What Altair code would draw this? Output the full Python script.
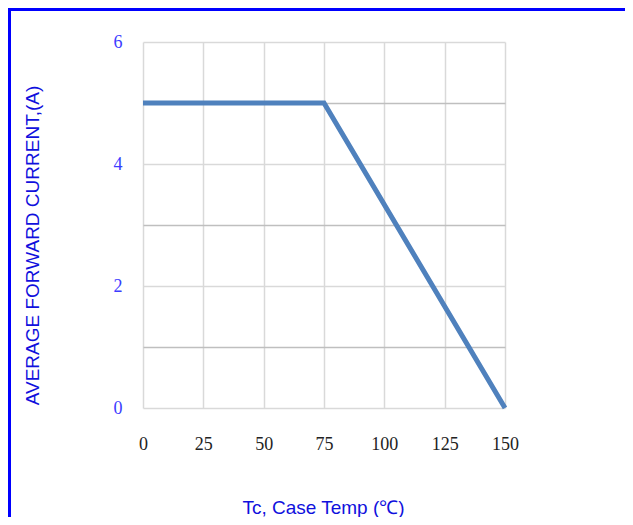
import altair as alt
import pandas as pd

temp = [0, 75, 150]
current = [5, 5, 0]
x_ticks = [0, 25, 50, 75, 100, 125, 150]
y_ticks = [0, 1, 2, 3, 4, 5, 6]

df = pd.DataFrame({"temp": temp, "current": current})

W, H = 362, 366
PL, PT = 135, 34
PR, PB = 617 - PL - W, 509 - PT - H

x_axis = alt.Axis(
    values=x_ticks, grid=True, gridColor="#d9d9d9", gridWidth=1.5,
    domain=False, ticks=False, labelFont="Liberation Serif", labelFontSize=18,
    labelColor="#222222", labelPadding=27, title="Tc, Case Temp (℃)",
    titleFont="Liberation Sans", titleFontSize=19, titleFontWeight="normal",
    titleColor="#1010dd", titleX=180, titleY=99, titleBaseline="middle",
    titleAlign="center", labelFlush=False,
)
y_axis = alt.Axis(
    values=y_ticks, grid=True,
    gridColor={"condition": {"test": "datum.value % 2 == 1", "value": "#bfbfbf"}, "value": "#d9d9d9"},
    gridWidth=1.5,
    domain=False, ticks=False, labelFont="Liberation Serif", labelFontSize=18,
    labelColor="#3c3cff", labelPadding=21,
    labelExpr="datum.value % 2 == 0 ? datum.label : ''",
    title="AVERAGE FORWARD CURRENT,(A)",
    titleFont="Liberation Sans", titleFontSize=19, titleFontWeight="normal",
    titleColor="#1010dd", titleX=-111, titleY=203, titleBaseline="middle",
    titleAlign="center", titleAngle=270, labelFlush=False,
)

line = alt.Chart(df).mark_line(color="#4f81bd", strokeWidth=5, clip=False).encode(
    x=alt.X("temp:Q", scale=alt.Scale(domain=[0, 150], nice=False), axis=x_axis),
    y=alt.Y("current:Q", scale=alt.Scale(domain=[0, 6], nice=False), axis=y_axis),
)

border_top = alt.Chart(df).mark_rule(color="#0000ff", strokeWidth=3).encode(
    x=alt.value(-PL), x2=alt.value(W + PR), y=alt.value(-PT + 1.5)
)
border_left = alt.Chart(df).mark_rule(color="#0000ff", strokeWidth=3).encode(
    x=alt.value(-PL + 1.5), y=alt.value(-PT), y2=alt.value(H + PB)
)

chart = alt.layer(line, border_top, border_left).properties(
    width=W, height=H,
    autosize=alt.AutoSizeParams(type="none"),
    padding={"left": PL, "top": PT, "right": PR, "bottom": PB},
    background="white",
).configure_view(stroke=None)

chart.save("out.html", embed_options={"renderer": "svg", "actions": False})
